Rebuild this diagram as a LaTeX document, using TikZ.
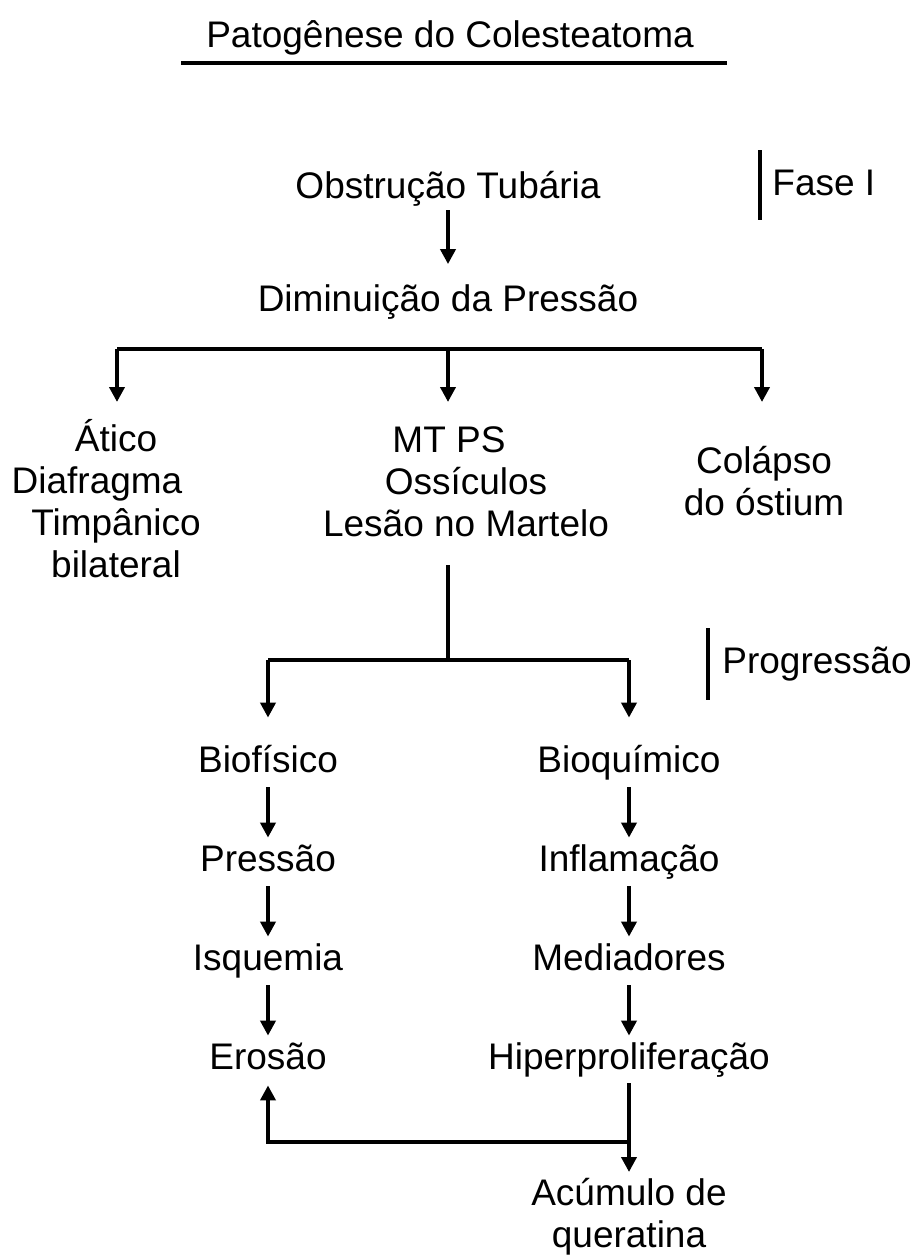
\documentclass[tikz,border=0pt]{standalone}
\usepackage{fontspec}
\setmainfont{Liberation Sans}
\usetikzlibrary{arrows.meta,positioning}

\begin{document}
\begin{tikzpicture}[
    x=0.5pt, y=-0.5pt,
    font=\fontsize{18.5}{21}\selectfont,
    stage/.style={
        % uma linha de texto
        inner sep=0pt,
        text height=13.5pt,
        text depth=4pt},
    block/.style={
        % varias linhas
        inner sep=0pt,
        anchor=north,
        align=center},
    link/.style={line width=2pt},
    arr/.style={
        line width=2pt,
        -{Triangle[width=7.5pt,length=7.5pt]}}
  ]
  \useasboundingbox (0,0) rectangle (914,1258);
  % titulo
  \node (title) [stage] at (450,37.5) {Patogênese do Colesteatoma};
  \draw [link] (181,63) -- (727,63);
  % fase I
  \node (obstrucao) [stage] at (448,188.5) {Obstrução Tubária};
  \node (diminuicao) [stage] at (448,302) {Diminuição da Pressão};
  \draw [arr,shorten <=2pt,shorten >=10pt] (obstrucao) -- (diminuicao);
  \coordinate (faseTop) at (760,150);
  \coordinate (faseBot) at (760,220);
  \draw [link] (faseTop) -- (faseBot);
  \node (fase) [stage,anchor=west] at (772,185.5) {Fase I};
  % tres ramos
  \coordinate (ramoL) at (117,349);
  \coordinate (ramoA) at (448,349);
  \coordinate (ramoR) at (762,349);
  \draw [link] (ramoL) -- (ramoR);
  \node (atico) [block] at (116,419) {Ático\\Diafragma\rule{19pt}{0pt}\\Timpânico\\bilateral};
  \node (ossiculos) [block] at (466,426) {MT PS\rule{17pt}{0pt}\\Ossículos\\Lesão no Martelo};
  \node (colapso) [block] at (764,446) {Colápso\\do óstium};
  \draw [arr,shorten >=8.5pt] (ramoL) -- (ramoL |- atico.north);
  \draw [arr,shorten >=12pt] (ramoA) -- (ramoA |- ossiculos.north);
  \draw [arr,shorten >=22pt] (ramoR) -- (ramoR |- colapso.north);
  % progressao
  \coordinate (ramoB) at (448,660);
  \draw [link,shorten <=14pt] (ossiculos.south -| ramoB) -- (ramoB);
  \coordinate (progTop) at (708,628);
  \coordinate (progBot) at (708,700);
  \draw [link] (progTop) -- (progBot);
  \node (progressao) [stage,anchor=west] at (722,664) {Progressão};
  \coordinate (ramoBL) at (268,660);
  \coordinate (ramoBR) at (629,660);
  \draw [link] (ramoBL) -- (ramoBR);
  % duas colunas
  \node (biofisico) [stage] at (268,762.5) {Biofísico};
  \node (pressao) [stage] at (268,861.5) {Pressão};
  \node (isquemia) [stage] at (268,960.5) {Isquemia};
  \node (erosao) [stage] at (268,1059.5) {Erosão};
  \node (bioquimico) [stage] at (629,762.5) {Bioquímico};
  \node (inflamacao) [stage] at (629,861.5) {Inflamação};
  \node (mediadores) [stage] at (629,960.5) {Mediadores};
  \node (hiper) [stage] at (629,1059.5) {Hiperproliferação};
  \draw [arr,shorten >=13.5pt] (ramoBL) -- (ramoBL |- biofisico.north);
  \draw [arr,shorten >=13.5pt] (ramoBR) -- (ramoBR |- bioquimico.north);
  \draw [arr,shorten <=3.5pt,shorten >=3pt] (biofisico) -- (pressao);
  \draw [arr,shorten <=3.5pt,shorten >=3pt] (pressao) -- (isquemia);
  \draw [arr,shorten <=3.5pt,shorten >=3pt] (isquemia) -- (erosao);
  \draw [arr,shorten <=3.5pt,shorten >=3pt] (bioquimico) -- (inflamacao);
  \draw [arr,shorten <=3.5pt,shorten >=3pt] (inflamacao) -- (mediadores);
  \draw [arr,shorten <=3.5pt,shorten >=3pt] (mediadores) -- (hiper);
  % acumulo
  \node (acumulo) [block] at (629,1178) {Acúmulo de\\queratina};
  \coordinate (volta) at (629,1142);
  \draw [arr,shorten <=3pt,shorten >=3pt] (hiper) -- (acumulo);
  \draw [arr,shorten >=4pt] (volta) -| (erosao);
\end{tikzpicture}
\end{document}
